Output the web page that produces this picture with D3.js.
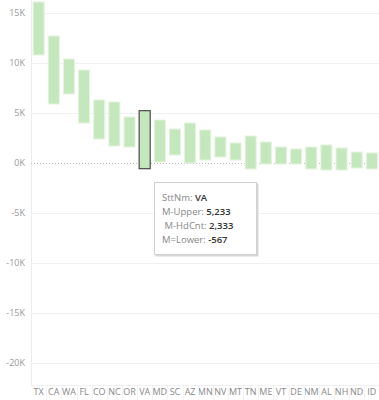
<!DOCTYPE html>
<html>
<head>
<meta charset="utf-8">
<script src="https://cdn.jsdelivr.net/npm/d3@7"></script>
<style>
  body { margin: 0; background: #fff; }
  text { font-family: "Open Sans", Lato, sans-serif; }
</style>
</head>
<body>
<div id="chart-container"></div>
<script>
// Data (thousands)
const states = ["TX","CA","WA","FL","CO","NC","OR","VA","MD","SC","AZ","MN","NV","MT","TN","ME","VT","DE","NM","AL","NH","ND","ID"];
const upper = [16.1, 12.7, 10.4, 9.3, 6.3, 6.1, 4.6, 5.233, 4.3, 3.4, 4.0, 3.3, 2.6, 2.0, 2.7, 2.1, 1.6, 1.4, 1.6, 1.8, 1.5, 1.1, 1.0];
const lower = [10.8, 5.9, 6.9, 4.0, 2.4, 1.7, 1.6, -0.567, 0.1, 0.8, 0.0, 0.3, 0.6, 0.3, -0.6, -0.1, -0.1, -0.1, -0.6, -0.7, -0.7, -0.5, -0.6];
const yTicks = [15, 10, 5, 0, -5, -10, -15, -20];
const highlighted = "VA";
const tipLabels = ["SttNm:", "M-Upper:", " M-HdCnt:", "M=Lower:"];
const tipValues = ["VA", "5,233", "2,333", "-567"];

const W = 379, H = 400;
const margin = { top: 0, right: 0, bottom: 15, left: 31 };

const svg = d3.select("#chart-container")
  .append("svg")
  .attr("width", W)
  .attr("height", H);

const x = d3.scaleBand()
  .domain(states)
  .range([margin.left, W + 0.5])
  .paddingInner(0.27)
  .paddingOuter(0.14);

const y = d3.scaleLinear()
  .domain([-22.2, 16.3])
  .range([H - margin.bottom, margin.top]);

// gridlines
svg.append("g")
  .selectAll("line")
  .data(yTicks.filter(d => d !== 0))
  .join("line")
  .attr("x1", margin.left)
  .attr("x2", W)
  .attr("y1", d => Math.round(y(d)) + 0.5)
  .attr("y2", d => Math.round(y(d)) + 0.5)
  .attr("stroke", "#f0f0f0")
  .attr("stroke-width", 1);

// y axis
const yAxis = svg.append("g")
  .attr("transform", `translate(${margin.left}, 0)`)
  .call(d3.axisLeft(y).tickValues(yTicks).tickSize(0).tickPadding(6)
    .tickFormat(d => `${d}K`));
yAxis.select(".domain").attr("stroke", "#ececec");
yAxis.selectAll(".tick text")
  .attr("fill", "#999")
  .style("font-size", "9px");

// bottom border
svg.append("line")
  .attr("x1", margin.left)
  .attr("x2", W)
  .attr("y1", H - margin.bottom + 0.5)
  .attr("y2", H - margin.bottom + 0.5)
  .attr("stroke", "#f0f0f0");

// x axis labels with faint header dividers
const xAxis = svg.append("g")
  .attr("transform", `translate(0, ${H - margin.bottom})`)
  .call(d3.axisBottom(x).tickSize(0).tickPadding(4));
xAxis.select(".domain").remove();
xAxis.selectAll(".tick text")
  .attr("fill", "#888")
  .style("font-size", "9px");
svg.append("g")
  .selectAll("line")
  .data(states.slice(1))
  .join("line")
  .attr("x1", d => Math.round(x(d) - x.step() * x.paddingInner() / 2) + 0.5)
  .attr("x2", d => Math.round(x(d) - x.step() * x.paddingInner() / 2) + 0.5)
  .attr("y1", H - margin.bottom + 1)
  .attr("y2", H)
  .attr("stroke", "#f3f3f3");

// zero line
svg.append("line")
  .attr("x1", margin.left)
  .attr("x2", W)
  .attr("y1", Math.round(y(0)) + 0.5)
  .attr("y2", Math.round(y(0)) + 0.5)
  .attr("stroke", "#bbb")
  .attr("stroke-dasharray", "1,2");

// bars (range from lower to upper)
svg.append("g")
  .selectAll("rect")
  .data(states)
  .join("rect")
  .attr("x", d => x(d))
  .attr("width", x.bandwidth())
  .attr("y", (d, i) => y(upper[i]))
  .attr("height", (d, i) => y(lower[i]) - y(upper[i]))
  .attr("fill", "#c5e7bd")
  .attr("stroke", d => d === highlighted ? "#4a4a4a" : "#e4f4df")
  .attr("stroke-width", d => d === highlighted ? 1.2 : 1);

// tooltip
const tip = svg.append("g").attr("transform", "translate(154, 182)");
tip.append("rect")
  .attr("x", 1.5).attr("y", 1.5)
  .attr("width", 103).attr("height", 73)
  .attr("fill", "#d8d8d8");
tip.append("rect")
  .attr("x", 0.5).attr("y", 0.5)
  .attr("width", 102).attr("height", 72)
  .attr("fill", "#fff")
  .attr("stroke", "#d0d0d0");
const lines = tip.selectAll("text")
  .data(tipLabels)
  .join("text")
  .attr("x", 8)
  .attr("y", (d, i) => 18.5 + i * 14.3)
  .style("font-size", "9.5px")
  .attr("xml:space", "preserve");
lines.append("tspan")
  .attr("fill", "#888")
  .text(d => d + " ");
lines.append("tspan")
  .attr("fill", "#333")
  .style("font-weight", 600)
  .text((d, i) => tipValues[i]);
</script>
</body>
</html>
